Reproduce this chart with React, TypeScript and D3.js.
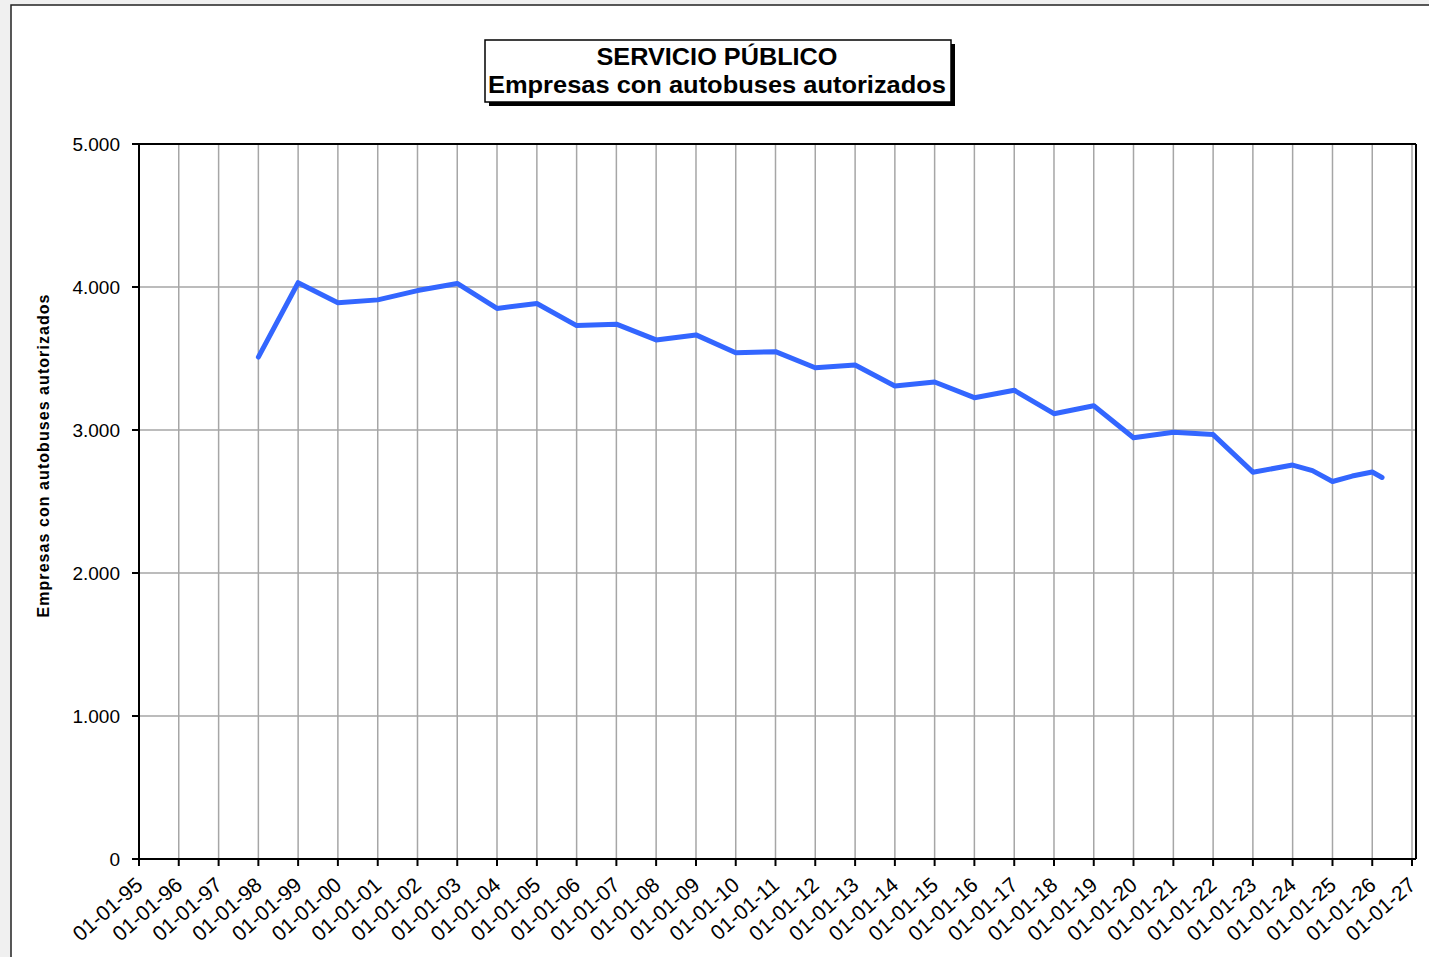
import React from "react";
import * as d3 from "d3";

// Empresas con autobuses autorizados (servicio público)
const dates = [
  "1998-01-01", "1999-01-01", "2000-01-01", "2001-01-01", "2002-01-01",
  "2003-01-01", "2004-01-01", "2005-01-01", "2006-01-01", "2007-01-01",
  "2008-01-01", "2009-01-01", "2010-01-01", "2011-01-01", "2012-01-01",
  "2013-01-01", "2014-01-01", "2015-01-01", "2016-01-01", "2017-01-01",
  "2018-01-01", "2019-01-01", "2020-01-01", "2021-01-01", "2022-01-01",
  "2023-01-01", "2024-01-01", "2024-07-01", "2025-01-01", "2025-07-01",
  "2026-01-01", "2026-04-01",
];
const values = [
  3510, 4030, 3890, 3910, 3975,
  4025, 3850, 3885, 3730, 3740,
  3630, 3665, 3540, 3548, 3435,
  3455, 3308, 3336, 3226, 3278,
  3114, 3170, 2946, 2984, 2968,
  2705, 2755, 2716, 2640, 2678,
  2706, 2668,
];
const yTicks = [0, 1000, 2000, 3000, 4000, 5000];
const titleLines = ["SERVICIO PÚBLICO", "Empresas con autobuses autorizados"];
const yTitle = "Empresas con autobuses autorizados";

const W = 1429;
const H = 957;
const left = 139;
const top = 144;
const bottom = 859;
const right = 1416;

const parse = d3.timeParse("%Y-%m-%d");
const fmtTick = d3.timeFormat("%d-%m-%y");

export default function App() {
  const x = d3
    .scaleTime()
    .domain([new Date(1995, 0, 1), new Date(2027, 0, 1)])
    .range([left, 1412]);
  const y = d3.scaleLinear().domain([0, 5000]).range([bottom, top]);
  const years = d3.timeYear.range(new Date(1995, 0, 1), new Date(2027, 0, 2));
  const points = dates.map((d, i) => ({ date: parse(d) as Date, value: values[i] }));
  const line = d3
    .line<{ date: Date; value: number }>()
    .x((d) => x(d.date))
    .y((d) => y(d.value));

  return (
    <svg
      width={W}
      height={H}
      style={{ position: "absolute", left: 0, top: 0, fontFamily: "'Liberation Sans', Arial, sans-serif" }}
    >
      <rect x={0} y={0} width={W} height={H} fill="#f0f0f0" />
      <rect x={11} y={5} width={W + 20} height={H + 20} fill="#fff" stroke="#222" strokeWidth={1.5} />

      {/* grid */}
      {years.slice(1).map((d) => (
        <line key={+d} x1={x(d)} x2={x(d)} y1={top} y2={bottom} stroke="#a6a6a6" strokeWidth={1.5} />
      ))}
      {yTicks.slice(1, -1).map((t) => (
        <line key={t} x1={left} x2={right} y1={y(t)} y2={y(t)} stroke="#a6a6a6" strokeWidth={1.5} />
      ))}

      {/* plot border */}
      <line x1={left} x2={right} y1={top} y2={top} stroke="#000" strokeWidth={2} />
      <line x1={right} x2={right} y1={top} y2={bottom} stroke="#000" strokeWidth={2} />
      <line x1={left} x2={left} y1={top} y2={bottom + 6} stroke="#000" strokeWidth={2} />
      <line x1={left - 7} x2={right} y1={bottom} y2={bottom} stroke="#000" strokeWidth={2} />

      {/* y axis */}
      {yTicks.map((t) => (
        <g key={t}>
          <line x1={left - 7} x2={left} y1={y(t)} y2={y(t)} stroke="#000" strokeWidth={2} />
          <text x={120} y={y(t)} dy="0.36em" textAnchor="end" fontSize={19} fill="#000">
            {d3.format(",")(t).replace(/,/g, ".")}
          </text>
        </g>
      ))}
      <text
        transform={`translate(49,456) rotate(-90)`}
        textAnchor="middle"
        fontSize={16}
        fontWeight="bold"
        textLength={323}
        lengthAdjust="spacing"
        fill="#000"
      >
        {yTitle}
      </text>

      {/* x axis */}
      {years.map((d) => (
        <g key={+d}>
          <line x1={x(d)} x2={x(d)} y1={bottom} y2={bottom + 7} stroke="#000" strokeWidth={2} />
          <text
            transform={`translate(${x(d) + 5},887) rotate(-41)`}
            textAnchor="end"
            fontSize={21}
            fill="#000"
          >
            {fmtTick(d)}
          </text>
        </g>
      ))}

      {/* series */}
      <path
        d={line(points) || ""}
        fill="none"
        stroke="#3366ff"
        strokeWidth={5}
        strokeLinejoin="round"
        strokeLinecap="round"
      />

      {/* title box */}
      <rect x={489} y={44} width={466} height={62} fill="#000" />
      <rect x={485} y={40} width={466} height={62} fill="#fff" stroke="#000" strokeWidth={1.5} />
      <text x={717} y={65} textAnchor="middle" fontSize={23} fontWeight="bold" fill="#000" textLength={241} lengthAdjust="spacingAndGlyphs">
        {titleLines[0]}
      </text>
      <text x={717} y={93} textAnchor="middle" fontSize={23} fontWeight="bold" fill="#000" textLength={458} lengthAdjust="spacingAndGlyphs">
        {titleLines[1]}
      </text>
    </svg>
  );
}
